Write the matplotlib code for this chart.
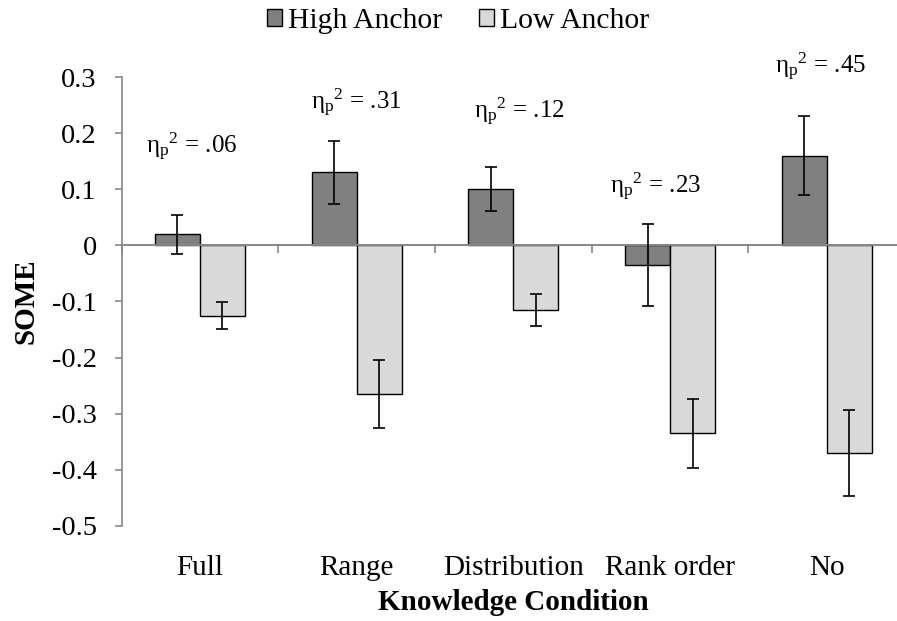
import numpy as np
import matplotlib
matplotlib.use("Agg")
import matplotlib.pyplot as plt
from matplotlib.patches import Patch

plt.rcParams['font.family'] = ['Liberation Serif', 'DejaVu Serif']
plt.rcParams['mathtext.fontset'] = 'custom'
plt.rcParams['mathtext.rm'] = 'Liberation Serif'
plt.rcParams['mathtext.it'] = 'Liberation Serif:italic'
plt.rcParams['mathtext.bf'] = 'Liberation Serif:bold'

# Data
conditions = ['Full', 'Range', 'Distribution', 'Rank order', 'No']
high_anchor = [0.02, 0.13, 0.10, -0.035, 0.16]
high_err = [0.035, 0.056, 0.039, 0.073, 0.071]
low_anchor = [-0.125, -0.265, -0.115, -0.335, -0.37]
low_err = [0.024, 0.06, 0.028, 0.062, 0.076]
eta_values = ['.06', '.31', '.12', '.23', '.45']

# Label placement for the effect sizes (x offset in category units, y in data units)
eta_dx = [-0.05, 0.0, 0.04, -0.09, -0.04]
eta_y = [0.163, 0.243, 0.226, 0.092, 0.307]

HIGH_COLOR = '#808080'
LOW_COLOR = '#d9d9d9'
AXIS_GRAY = '#868686'

fig = plt.figure(figsize=(8.97, 6.21), dpi=100)
ax = fig.add_axes([0.1356, 0.153, 0.8734, 0.723])

x = np.arange(len(conditions))
w = 0.287

ax.bar(x - w / 2, high_anchor, w, color=HIGH_COLOR, edgecolor='black', linewidth=1.0, zorder=2)
ax.bar(x + w / 2, low_anchor, w, color=LOW_COLOR, edgecolor='black', linewidth=1.0, zorder=2)
ax.errorbar(x - w / 2, high_anchor, yerr=high_err, fmt='none', ecolor='black',
            elinewidth=1.2, capsize=4.3, capthick=1.2, zorder=4)
ax.errorbar(x + w / 2, low_anchor, yerr=low_err, fmt='none', ecolor='black',
            elinewidth=1.2, capsize=4.3, capthick=1.2, zorder=4)

for xi, dx, yy, val in zip(x, eta_dx, eta_y, eta_values):
    ax.text(xi + dx, yy, 'η$_\\mathrm{p}$$^2$ = ' + val, ha='center', va='baseline',
            fontsize=18)

ax.set_xlim(-0.5, len(conditions) - 0.5)
ax.set_ylim(-0.5, 0.3)
ax.set_yticks(np.arange(-0.5, 0.31, 0.1))
ax.set_yticklabels(['-0.5', '-0.4', '-0.3', '-0.2', '-0.1', '0', '0.1', '0.2', '0.3'])
ax.tick_params(axis='y', length=5, width=1.2, color=AXIS_GRAY, pad=13, labelsize=20.5)

# Horizontal axis sits on zero with ticks between categories
ax.spines['bottom'].set_position(('data', 0))
ax.spines['bottom'].set_color(AXIS_GRAY)
ax.spines['bottom'].set_linewidth(1.4)
ax.spines['bottom'].set_zorder(3)
ax.spines['left'].set_color(AXIS_GRAY)
ax.spines['left'].set_linewidth(1.2)
ax.spines['top'].set_visible(False)
ax.spines['right'].set_visible(False)
ax.set_xticks(np.arange(len(conditions) + 1) - 0.5)
ax.tick_params(axis='x', length=6, width=1.2, color=AXIS_GRAY, labelbottom=False)

# Category labels along the bottom of the plot area
sec = ax.secondary_xaxis('bottom')
sec.set_xticks(x)
sec.set_xticklabels(conditions)
sec.tick_params(length=0, pad=21, labelsize=21)
sec.spines['bottom'].set_visible(False)
sec.set_xlabel('Knowledge Condition', fontsize=21, fontweight='bold', labelpad=6)

ax.set_ylabel('SOME', fontsize=21, fontweight='bold', labelpad=9)

handles = [Patch(facecolor=HIGH_COLOR, edgecolor='black', linewidth=1.0),
           Patch(facecolor=LOW_COLOR, edgecolor='black', linewidth=1.0)]
fig.legend(handles, ['High Anchor', 'Low Anchor'], loc='center',
           bbox_to_anchor=(458 / 897, 1 - 21 / 621), ncol=2, frameon=False,
           fontsize=21.3, handlelength=0.5, handleheight=0.5, handletextpad=0.2,
           columnspacing=1.25, borderpad=0)

fig.savefig('out.png', dpi=100)
